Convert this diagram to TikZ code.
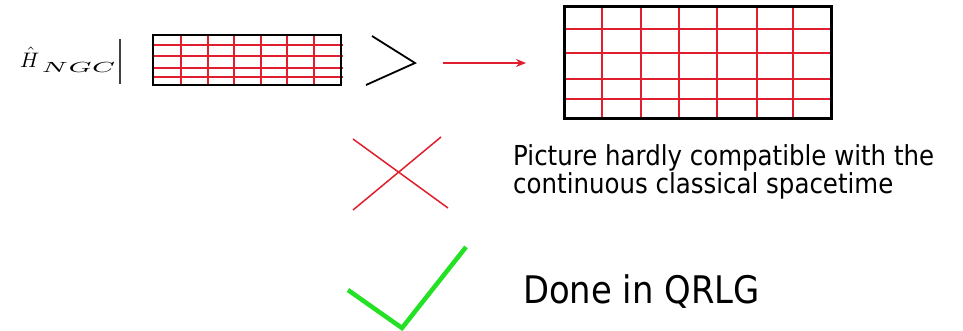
\documentclass[tikz,border=0pt]{standalone}
\usepackage{fontspec}
\newfontfamily\vsans[FakeStretch=0.89]{DejaVu Sans}
\usetikzlibrary{arrows.meta}
\definecolor{gridred}{RGB}{225,30,45}
\definecolor{checkgreen}{RGB}{35,225,35}
\tikzset{
  frame/.style={draw=black},
  gline/.style={draw=gridred},
  txt/.style={inner sep=0pt, anchor=base west, font=\vsans}
}
\begin{document}
\begin{tikzpicture}[x=1pt,y=-1pt]
\useasboundingbox[fill=white] (0,0) rectangle (963,330);
% label
\node[inner sep=0pt, anchor=base west] (lbl) at (20,67) {\scalebox{2.1}{$\hat{H}$}\hspace{2pt}\raisebox{-5pt}{\scalebox{3.8}[2.1]{$\scriptstyle NGC$}}};
\coordinate (bt) at (120,39);
\coordinate (bb) at (120,84);
\draw[line width=1.2pt, black!75] (bt) -- (bb);
% small grid
\foreach \x in {181,208,234,261,287,314} \draw[gline, line width=1.1pt] (\x,34) -- (\x,84);
\foreach \y in {45,56,68,77} \draw[gline, line width=1.1pt] (152,\y) -- (343,\y);
\node[frame, line width=1.8pt, inner sep=0pt, minimum width=188pt, minimum height=50pt, anchor=north west] (small) at (152,34) {};
% angle
\coordinate (a1) at (372,36);
\coordinate (a2) at (415,63);
\coordinate (a3) at (366,85);
\draw[line width=1.8pt, line join=miter] (a1) -- (a2) -- (a3);
% arrow
\coordinate (r1) at (443,63);
\coordinate (r2) at (526,63);
\draw[gridred, line width=1.4pt, -{Stealth[length=10pt,width=8pt]}] (r1) -- (r2);
% big grid
\foreach \x in {602,641,679,717,757,793} \draw[gline, line width=1.3pt] (\x,5) -- (\x,117);
\foreach \y in {29,53,79,99} \draw[gline, line width=1.3pt] (563,\y) -- (832,\y);
\node[frame, line width=2.8pt, inner sep=0pt, minimum width=267pt, minimum height=112pt, anchor=north west] (big) at (563,5) {};
% cross
\coordinate (x1) at (353,139);
\coordinate (x2) at (448,208);
\coordinate (x3) at (441,137);
\coordinate (x4) at (353,210);
\draw[gridred, line width=1.5pt] (x1) -- (x2) (x3) -- (x4);
\node[txt] (t1) at (513,165) {\fontsize{27.5}{28}\selectfont Picture hardly compatible with the};
\node[txt] (t2) at (513,193) {\fontsize{27.5}{28}\selectfont continuous classical spacetime};
% check
\coordinate (c1) at (348,290);
\coordinate (c2) at (402,328);
\coordinate (c3) at (466,247);
\draw[checkgreen, line width=4.5pt] (c1) -- (c2) -- (c3);
\node[txt] (t3) at (523,303) {\fontsize{38}{40}\selectfont Done in QRLG};
\end{tikzpicture}
\end{document}
